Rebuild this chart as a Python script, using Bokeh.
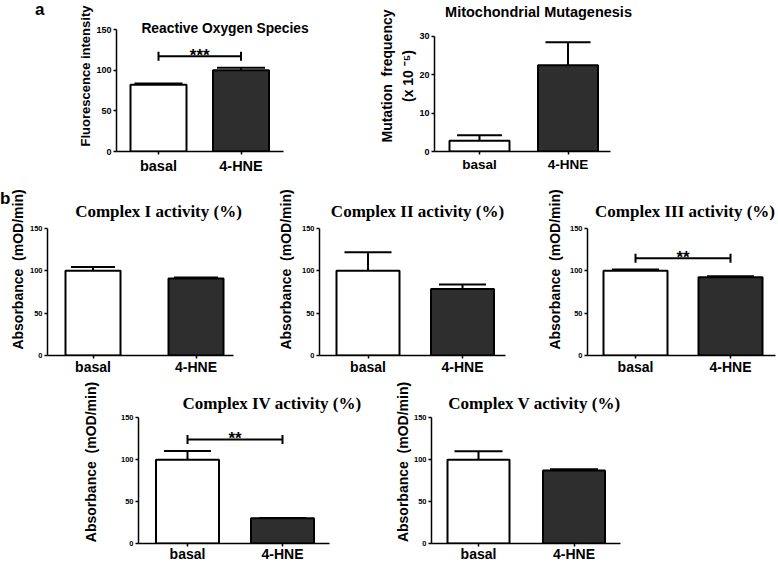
from bokeh.plotting import figure
from bokeh.layouts import column, row
from bokeh.models import ColumnDataSource, Whisker, TeeHead, Label, FixedTicker, Range1d, Div
from bokeh.embed import file_html
from bokeh.resources import INLINE

# ---------------- data ----------------
categories = ["basal", "4-HNE"]

ros_mean = [82, 100]
ros_err = [1.7, 3.0]

mito_mean = [2.8, 22.4]
mito_err = [1.4, 6.0]

c1_mean = [100, 91]
c1_err = [4.5, 1.0]
c2_mean = [100, 78.5]
c2_err = [22, 5.5]
c3_mean = [100, 92.5]
c3_err = [1.5, 1.0]
c4_mean = [100, 30]
c4_err = [10.5, 0.5]
c5_mean = [100, 87]
c5_err = [10, 1.5]

titles = ["Reactive Oxygen Species", "Mitochondrial Mutagenesis",
          "Complex I activity (%)", "Complex II activity (%)", "Complex III activity (%)",
          "Complex IV activity (%)", "Complex V activity (%)"]
ylabels = ["Fluorescence intensity", "Mutation\u00a0 frequency\n(x 10 \u207b\u2075)",
           "Absorbance\u00a0 (mOD/min)", "Absorbance\u00a0 (mOD/min)", "Absorbance\u00a0 (mOD/min)",
           "Absorbance\u00a0 (mOD/min)", "Absorbance\u00a0 (mOD/min)"]
y_ticks_pct = [0, 50, 100, 150]
y_ticks_mito = [0, 10, 20, 30]
sig_ros = ("***", 117)
sig_c3 = ("**", 115)
sig_c4 = ("**", 124)
panel_tags = ["a", "b"]

# ---------------- layout (reference pixel geometry, page origin 0,0) ----------------
SANS = "Liberation Sans"
SERIF = "Liberation Serif"
DARK = "#2e2e2e"

rows_geo = {1: (0, 182), 2: (183, 380), 3: (380, 564)}


def panel(rowid, fx0, fx1, axis_x, axis_end, top_y, axis_y, centers, bar_w, cap, ymax,
          yticks, mean, err, title, title_pos, title_font, title_size, ylab, ylab_size,
          ylab_std, tick_size, xlab_size, label_std, sig=None, transparent=False):
    y0, y1 = rows_geo[rowid]
    L, B, Ttick, T, R = axis_x, axis_y, top_y, y0, fx1
    c1, c2 = centers
    s = c2 - c1
    xs = 1 - (c1 - L) / s
    xe_axis = xs + (axis_end - L) / s
    xe = xs + (R - L) / s
    ytop = ymax * (B - T) / (B - Ttick)

    def px(x):
        return xs + (x - L) / s

    def py(y):
        return (B - y) / (B - Ttick) * ymax

    p = figure(width=fx1 - fx0, height=y1 - y0,
               x_range=Range1d(xs, xe), y_range=Range1d(0, ytop),
               output_backend="svg", toolbar_location=None,
               min_border_left=int(round(L - fx0)), min_border_right=0,
               min_border_top=0, min_border_bottom=int(round(y1 - B)))
    p.outline_line_color = None
    p.xgrid.visible = False
    p.ygrid.visible = False
    p.background_fill_color = None if transparent else "white"
    p.border_fill_color = None if transparent else "white"

    xpos = [1, 2]
    src = ColumnDataSource(dict(x=xpos, top=mean,
                                upper=[m + e for m, e in zip(mean, err)],
                                color=["white", DARK], cat=categories))
    p.vbar(x="x", top="top", bottom=0, width=bar_w / s, source=src,
           fill_color="color", line_color="black", line_width=2)
    p.add_layout(Whisker(source=src, base="x", lower="top", upper="upper",
                         dimension="height", line_color="black", line_width=2,
                         lower_head=None,
                         upper_head=TeeHead(size=cap, line_color="black", line_width=2)))

    if sig is not None:
        ssrc = ColumnDataSource(dict(b=[sig[1]], lo=[1], hi=[2]))
        p.add_layout(Whisker(source=ssrc, base="b", lower="lo", upper="hi",
                             dimension="width", line_color="black", line_width=2,
                             lower_head=TeeHead(size=9, line_color="black", line_width=2),
                             upper_head=TeeHead(size=9, line_color="black", line_width=2)))
        p.add_layout(Label(x=1.5, y=sig[1] + 1.0 * ymax / (B - Ttick), text=sig[0],
                           text_align="center", text_baseline="alphabetic",
                           text_font=SANS, text_font_style="bold", text_font_size="17px",
                           text_color="black"))

    # axes
    p.xaxis.ticker = FixedTicker(ticks=xpos)
    p.xaxis.major_label_overrides = {1: categories[0], 2: categories[1]}
    p.xaxis.bounds = (xs, xe_axis)
    p.yaxis.ticker = FixedTicker(ticks=yticks)
    p.yaxis.bounds = (0, ymax)
    for ax in (p.xaxis, p.yaxis):
        ax.axis_line_width = 1.5
        ax.axis_line_color = "black"
        ax.major_tick_line_width = 1.5
        ax.major_tick_line_color = "black"
        ax.major_tick_out = 3
        ax.major_tick_in = 0
        ax.minor_tick_line_color = None
        ax.major_label_text_font = SANS
        ax.major_label_text_font_style = "bold"
        ax.major_label_text_color = "black"
    p.yaxis.major_label_text_font_size = tick_size
    p.yaxis.major_label_standoff = 2
    p.yaxis.axis_label = ylab
    p.yaxis.axis_label_text_font = SANS
    p.yaxis.axis_label_text_font_style = "bold"
    p.yaxis.axis_label_text_font_size = ylab_size
    p.yaxis.axis_label_text_color = "black"
    p.yaxis.axis_label_text_line_height = 1.35
    p.yaxis.axis_label_standoff = ylab_std
    p.xaxis.major_label_text_font_size = xlab_size
    p.xaxis.major_label_standoff = label_std

    # title
    p.add_layout(Label(x=px(title_pos[0]), y=py(title_pos[1]), text=title,
                       text_align="center", text_baseline="alphabetic",
                       text_font=title_font, text_font_style="bold",
                       text_font_size=title_size, text_color="black"))
    return p


ros = panel(1, 50, 320, 116, 283, 29, 151, (158, 240.5), 56, 48, 150, y_ticks_pct,
            ros_mean, ros_err, titles[0], (224.5, 28), SANS, "13.8px",
            ylabels[0], "13px", 0, "9px", "14.5px", 3, sig=sig_ros)
mito = panel(1, 320, 778, 434, 610, 36, 153, (479, 567.5), 60, 45, 30, y_ticks_mito,
             mito_mean, mito_err, titles[1], (538, 12), SANS, "14.5px",
             ylabels[1], "14px", 0, "9px", "13.5px", 2)

c1 = panel(2, 0, 260, 47, 233, 228, 355, (92.5, 195.5), 55, 44, 150, y_ticks_pct,
           c1_mean, c1_err, titles[2], (158, 211), SERIF, "17px",
           ylabels[2], "14px", 1, "7.5px", "14px", 0, transparent=True)
c2 = panel(2, 260, 520, 319, 505, 228, 355, (367.5, 462), 63, 47, 150, y_ticks_pct,
           c2_mean, c2_err, titles[3], (417, 211), SERIF, "17px",
           ylabels[3], "14px", 5, "7.5px", "14px", 0)
c3 = panel(2, 520, 778, 587, 775, 228, 355, (635, 730), 64, 47, 150, y_ticks_pct,
           c3_mean, c3_err, titles[4], (684.5, 211), SERIF, "17px",
           ylabels[4], "14px", 4, "7.5px", "14px", 0, sig=sig_c3)

c4 = panel(3, 0, 390, 138, 329, 418, 546, (187, 282), 63, 47, 150, y_ticks_pct,
           c4_mean, c4_err, titles[5], (271.5, 403), SERIF, "17px",
           ylabels[5], "14px", 19, "7.5px", "14px", -1, sig=sig_c4)
c5 = panel(3, 390, 778, 431, 620, 418, 546, (478, 573.5), 62, 48, 150, y_ticks_pct,
           c5_mean, c5_err, titles[6], (534, 403), SERIF, "17px",
           ylabels[6], "14px", 0, "7.5px", "14px", -1)

tag_style = ("font-family:'Liberation Sans';font-weight:bold;font-size:17px;"
             "line-height:20px;position:relative;color:black;")
div_a = Div(text=f'<div style="{tag_style}left:35px;top:0px;">{panel_tags[0]}</div>',
            width=50, height=182, margin=0, styles={"overflow": "visible"})
div_b = Div(text=f'<div style="{tag_style}left:0px;top:7px;">{panel_tags[1]}</div>',
            width=40, height=1, margin=0, styles={"overflow": "visible", "z-index": "5"})

layout = column(row(div_a, ros, mito), div_b, row(c1, c2, c3), row(c4, c5))

open("out.html", "w").write(file_html(layout, INLINE))
